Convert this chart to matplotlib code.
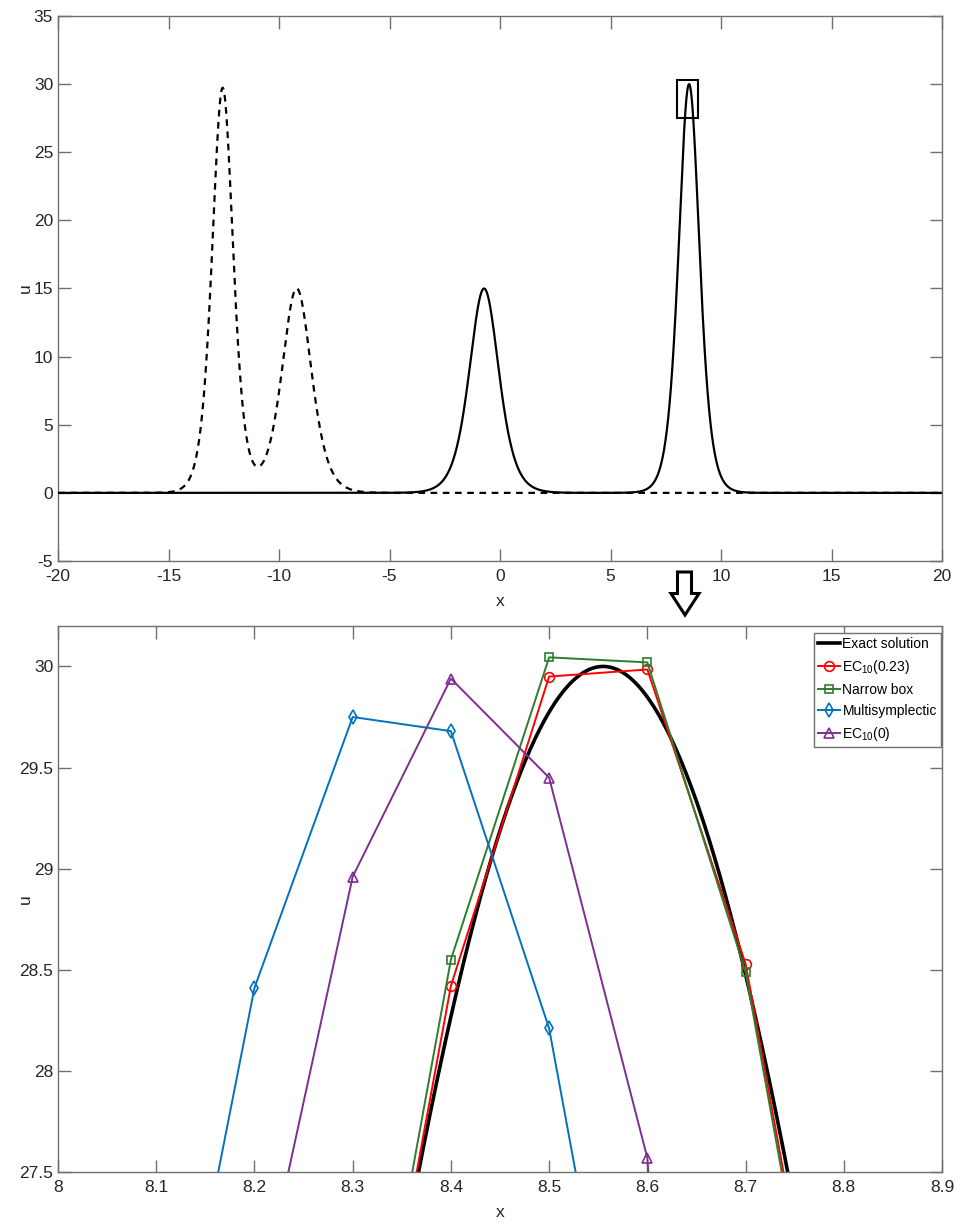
import numpy as np
import matplotlib
matplotlib.use("Agg")
import matplotlib.pyplot as plt
from matplotlib.patches import Rectangle, Polygon

plt.rcParams['font.family'] = ['Liberation Sans', 'DejaVu Sans']
plt.rcParams['axes.unicode_minus'] = False
plt.rcParams['mathtext.fontset'] = 'custom'
plt.rcParams['mathtext.rm'] = 'Liberation Sans'

# ---------------- data ----------------
# top panel: solitons (amplitude, centre)
initial_amp = [29.7, 15.0]
initial_center = [-12.55, -9.2]
final_amp = [15.0, 30.0]
final_center = [-0.72, 8.555]

top_xticks = [-20, -15, -10, -5, 0, 5, 10, 15, 20]
top_yticks = [-5, 0, 5, 10, 15, 20, 25, 30, 35]

# bottom panel: zoom around tallest peak
exact_amp = 30.0
exact_center = 8.555

ec023_x = [8.3, 8.4, 8.5, 8.6, 8.7, 8.8]
ec023_u = [25.78, 28.42, 29.95, 29.985, 28.53, 25.86]

narrow_x = [8.3, 8.4, 8.5, 8.6, 8.7, 8.8]
narrow_u = [25.88, 28.55, 30.045, 30.02, 28.49, 25.80]

multi_x = [8.1, 8.2, 8.3, 8.4, 8.5, 8.6]
multi_u = [25.94, 28.41, 29.75, 29.68, 28.21, 25.58]

ec0_x = [8.2, 8.3, 8.4, 8.5, 8.6, 8.7]
ec0_u = [26.73, 28.96, 29.94, 29.45, 27.57, 20.5]

bot_xticks = [8, 8.1, 8.2, 8.3, 8.4, 8.5, 8.6, 8.7, 8.8, 8.9]
bot_yticks = [27.5, 28, 28.5, 29, 29.5, 30]

legend_labels = ['Exact solution', r'EC$_{\mathregular{10}}$(0.23)', 'Narrow box',
                 'Multisymplectic', r'EC$_{\mathregular{10}}$(0)']


def soliton(x, amp, c):
    k = np.sqrt(amp / 12.0)
    return amp / np.cosh(k * (x - c)) ** 2


W, H = 956, 1224
fig = plt.figure(figsize=(W / 100, H / 100), dpi=100)

axcol = '#707070'
txtcol = '#262626'


def fx(px):
    return px / W


def fy(py):
    return 1 - py / H


def style(ax, bottom_px, top_px):
    for s in ax.spines.values():
        s.set_color(axcol)
        s.set_linewidth(1.0)
    ax.tick_params(direction='in', top=True, right=True, length=9, width=1.0,
                   color=axcol, labelcolor=txtcol, labelsize=12.5)
    ax.tick_params(axis='x', pad=6)
    ax.tick_params(axis='y', pad=3.5)
    hpx = bottom_px - top_px
    ax.xaxis.set_label_coords(0.5, -33 / hpx)
    ax.yaxis.set_label_coords((33 - 58) / 884, 0.5)


# ---------------- top ----------------
ax1 = fig.add_axes([fx(58), fy(561), fx(942) - fx(58), fy(16) - fy(561)])
x = np.linspace(-20, 20, 4001)
u0 = sum(soliton(x, a, c) for a, c in zip(initial_amp, initial_center))
u1 = sum(soliton(x, a, c) for a, c in zip(final_amp, final_center))
ax1.plot(x, u1, color='black', lw=1.6, zorder=2)
ax1.plot(x, u0, color='black', lw=1.6, ls=(0, (3, 2.5)), zorder=3)
ax1.add_patch(Rectangle((8.02, 27.5), 0.93, 2.8, fill=False, ec='black', lw=1.5, zorder=4))
ax1.set_xlim(-20, 20)
ax1.set_ylim(-5, 35)
ax1.set_xticks(top_xticks)
ax1.set_yticks(top_yticks)
ax1.set_xticklabels([str(v) for v in top_xticks])
ax1.set_yticklabels([str(v) for v in top_yticks])
ax1.set_xlabel('x', fontsize=12.5, color=txtcol)
ax1.set_ylabel('u', fontsize=12.5, color=txtcol)
style(ax1, 561, 16)

# ---------------- bottom ----------------
ax2 = fig.add_axes([fx(58), fy(1172), fx(942) - fx(58), fy(626) - fy(1172)])
xe = np.linspace(8, 8.9, 1000)
ax2.plot(xe, soliton(xe, exact_amp, exact_center), color='black', lw=2.6,
         label=legend_labels[0], zorder=2)
ax2.plot(ec023_x, ec023_u, color='#ff0000', lw=1.4, marker='o', ms=7,
         mfc='none', mew=1.2, label=legend_labels[1], zorder=3)
ax2.plot(narrow_x, narrow_u, color='#2e7d2e', lw=1.4, marker='s', ms=6,
         mfc='none', mew=1.2, label=legend_labels[2], zorder=3)
ax2.plot(multi_x, multi_u, color='#0072bd', lw=1.4, marker='d', ms=7,
         mfc='none', mew=1.2, label=legend_labels[3], zorder=3)
ax2.plot(ec0_x, ec0_u, color='#7e2f8e', lw=1.4, marker='^', ms=7,
         mfc='none', mew=1.2, label=legend_labels[4], zorder=3)
ax2.set_xlim(8, 8.9)
ax2.set_ylim(27.5, 30.2)
ax2.set_xticks(bot_xticks)
ax2.set_yticks(bot_yticks)
ax2.set_xticklabels([f'{v:g}' for v in bot_xticks])
ax2.set_yticklabels([f'{v:g}' for v in bot_yticks])
ax2.set_xlabel('x', fontsize=12.5, color=txtcol)
ax2.set_ylabel('u', fontsize=12.5, color=txtcol)
style(ax2, 1172, 626)
leg = ax2.legend(loc='upper right', bbox_to_anchor=(fx(941), fy(633)),
                 bbox_transform=fig.transFigure, fontsize=10, fancybox=False,
                 framealpha=1, edgecolor=axcol, borderaxespad=0.0,
                 handlelength=1.6, handletextpad=0.15, labelspacing=0.5,
                 borderpad=0.3)
leg.get_frame().set_linewidth(1.0)

# ---------------- hollow arrow ----------------
arrow_px = [(677.5, 572), (691.5, 572), (691.5, 593.5), (699, 593.5),
            (685, 615), (671, 593.5), (677.5, 593.5)]
fig.patches.append(Polygon([(fx(a), fy(b)) for a, b in arrow_px], closed=True,
                           transform=fig.transFigure, fc='white', ec='black', lw=2.2))

fig.savefig('out.png', dpi=100)
